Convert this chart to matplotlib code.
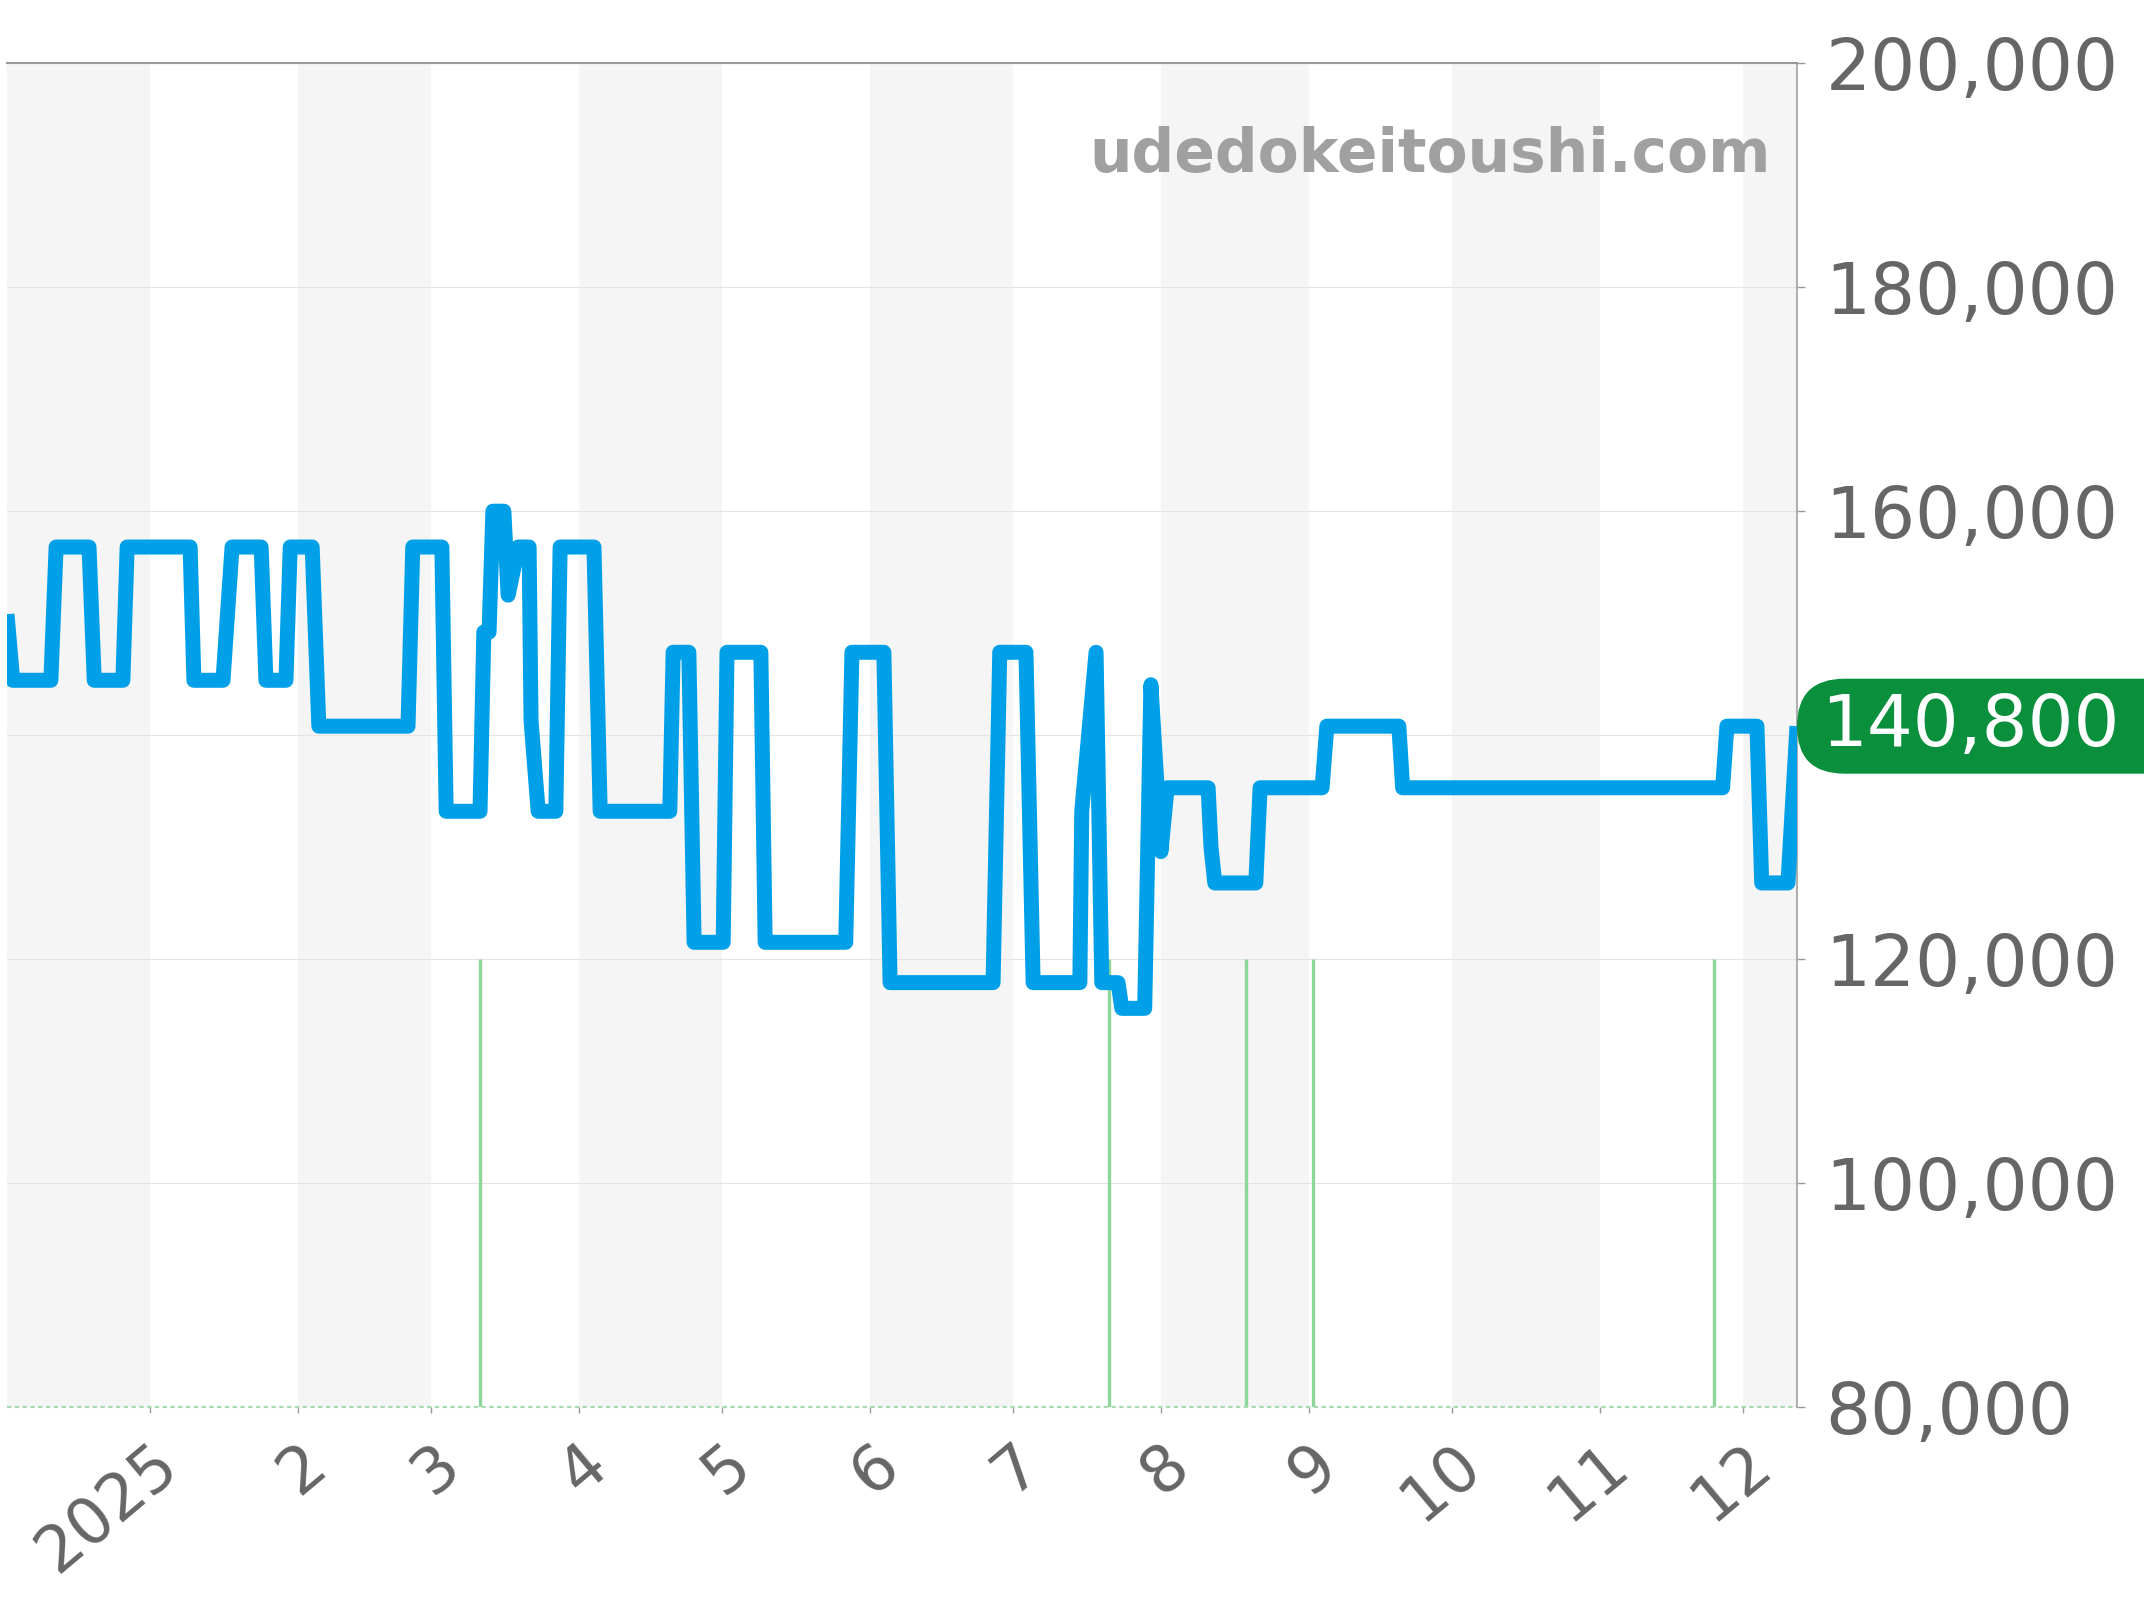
import numpy as np
import matplotlib
matplotlib.use('Agg')
import matplotlib.pyplot as plt
import matplotlib.dates as mdates
from matplotlib.patches import FancyBboxPatch

# price series: days after 2025-01-01 and price (yen)
start = np.datetime64('2025-01-01')
days = [-30.0, -28.8, -20.8, -19.7, -12.8, -11.7, -5.7, -4.8, 8.4, 9.2,
        15.3, 17.2, 23.3, 24.3, 28.5, 29.4, 34.0, 35.4, 54.1, 55.1,
        61.2, 62.1, 69.2, 70.0, 71.1, 71.9, 74.2, 75.1, 77.2, 79.5,
        79.9, 81.4, 85.1, 86.0, 93.1, 94.4, 109.0, 109.7, 113.0, 114.1,
        120.2, 121.0, 128.1, 129.0, 145.9, 147.2, 153.9, 155.2, 176.8, 178.2,
        183.7, 185.2, 195.0, 195.4, 198.4, 199.6, 203.0, 203.8, 208.6, 209.9,
        212.0, 213.3, 221.9, 222.5, 223.3, 231.9, 232.8, 245.8, 246.8, 261.9,
        262.7, 329.8, 330.7, 337.0, 338.0, 343.5, 345.4]
prices = [150800, 144900, 144900, 156800, 156800, 144900, 144900, 156800, 156800, 144900,
          144900, 156800, 156800, 144900, 144900, 156800, 156800, 140800, 140800, 156800,
          156800, 133200, 133200, 149200, 149200, 160000, 160000, 152500, 156800, 156800,
          141300, 133200, 133200, 156800, 156800, 133200, 133200, 147400, 147400, 121500,
          121500, 147400, 147400, 121500, 121500, 147400, 147400, 117900, 117900, 147400,
          147400, 117900, 117900, 133200, 147400, 117900, 117900, 115600, 115600, 144500,
          129600, 135300, 135300, 130000, 126800, 126800, 135300, 135300, 140800, 140800,
          135300, 135300, 140800, 140800, 126800, 126800, 140800]

# green volume marks
volume_days = [69.2, 201.1, 229.8, 243.9, 327.9]
volume_top = [120000, 120000, 120000, 120000, 120000]

month_ticks = ['2025-01-01', '2025-02-01', '2025-03-01', '2025-04-01', '2025-05-01', '2025-06-01',
               '2025-07-01', '2025-08-01', '2025-09-01', '2025-10-01', '2025-11-01', '2025-12-01']
month_labels = ['2025', '2', '3', '4', '5', '6', '7', '8', '9', '10', '11', '12']
shaded_months = ['2024-12', '2025-02', '2025-04', '2025-06', '2025-08', '2025-10', '2025-12']

y_ticks = [80000, 100000, 120000, 140000, 160000, 180000, 200000]
last_label = '140,800'
watermark = 'udedokeitoushi.com'

W, H = 2144, 1600
fig = plt.figure(figsize=(W / 100, H / 100), dpi=100)
ax = fig.add_axes([7 / W, 193 / H, 1790 / W, 1343.7 / H])

base = mdates.date2num(start)
x = base + np.array(days)
ax.set_xlim(base - 30.0, base + 345.4)
ax.set_ylim(80000, 200000)

# alternating month bands
for m in shaded_months:
    m0 = np.datetime64(m, 'M')
    a = mdates.date2num(m0.astype('datetime64[D]'))
    b = mdates.date2num((m0 + 1).astype('datetime64[D]'))
    ax.axvspan(a, b, color='#f5f5f5', lw=0, zorder=0)

ax.grid(axis='y', color='#e4e4e4', lw=0.8, zorder=1)
ax.set_axisbelow(True)

ax.vlines(base + np.array(volume_days), 80000, volume_top, color='#8fd69b', lw=2.4, zorder=2)
ax.axhline(80000, color='#a8dcb0', lw=1.6, ls=(0, (2, 1.5)), zorder=2, clip_on=False)

ax.plot(x, prices, color='#00a0e9', lw=10.8, solid_joinstyle='round',
        solid_capstyle='butt', zorder=3)

ax.text(0.9855, 0.919, watermark, transform=ax.transAxes, ha='right', va='baseline',
        fontsize=43, fontweight='bold', color='#a0a0a0')

# axes styling
for s in ['left', 'bottom']:
    ax.spines[s].set_visible(False)
ax.spines['top'].set_color('#999999')
ax.spines['top'].set_linewidth(1.5)
ax.spines['right'].set_color('#999999')
ax.spines['right'].set_linewidth(1.1)

# the 140,000 label sits under the price badge, so leave it blank
ax.yaxis.tick_right()
ax.set_yticks(y_ticks)
ax.set_yticklabels(['' if v == 140000 else f'{v:,}' for v in y_ticks])
ax.tick_params(axis='y', length=6, width=1, color='#999999', labelsize=51,
               labelcolor='#666666', pad=14.5)

ax.set_xticks([mdates.date2num(np.datetime64(d)) for d in month_ticks])
ax.set_xticklabels(month_labels, rotation=40, ha='right', va='top', rotation_mode='anchor')
ax.tick_params(axis='x', length=4.5, width=1, color='#999999', labelsize=46,
               labelcolor='#666666', pad=14)

# last price badge
y_disp = ax.transData.transform((base, prices[-1]))[1]
box = FancyBboxPatch((17.97, (y_disp - 47.5) / 100), 4.6, 0.95,
                     boxstyle='round,pad=0,rounding_size=0.475',
                     transform=fig.dpi_scale_trans, fc='#0a8f3c', ec='none', clip_on=False)
fig.add_artist(box)
fig.text(1821 / W, y_disp / H, last_label, color='white', fontsize=52, ha='left', va='center')

fig.savefig('out.png', dpi=100)
